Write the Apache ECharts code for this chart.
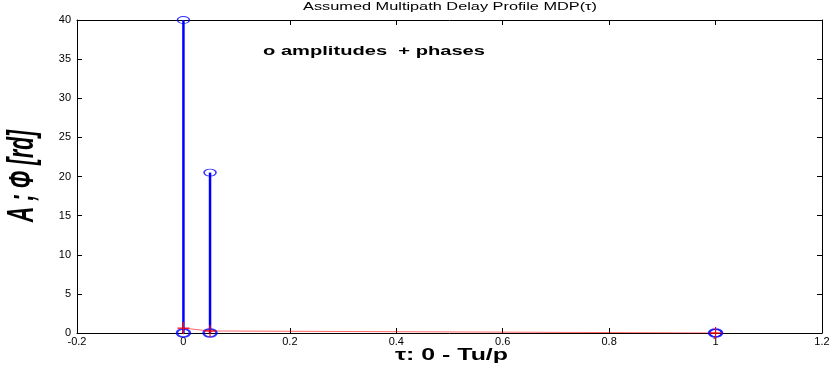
<!DOCTYPE html>
<html>
<head>
<meta charset="utf-8">
<script src="https://cdn.jsdelivr.net/npm/echarts@6/dist/echarts.min.js"></script>
<style>
  html, body { margin: 0; padding: 0; background: #fff; }
  #chart { width: 835px; height: 369px; }
</style>
</head>
<body>
<div id="chart"></div>
<script>
// Path delays (normalised to Tu/p), amplitudes and phases of the assumed profile
const delays = [0, 0.05, 1];
const amplitudes = [40, 20.5, 0];
const phases = [0.62, 0.26, 0.0];

const xTicks = [-0.2, 0, 0.2, 0.4, 0.6, 0.8, 1, 1.2];
const yTicks = [0, 5, 10, 15, 20, 25, 30, 35, 40];

const titleText = 'Assumed Multipath Delay Profile MDP(\u03c4)';
const legendText = 'o amplitudes  + phases';
const xLabelText = '\u03c4: 0 - Tu/p';
const yLabelText = 'A ; \u03a6 [rd]';

const chart = echarts.init(document.getElementById('chart'), null, { renderer: 'canvas' });

// Measure a string so wide-set labels can be stretched to a given run length
const measureCtx = document.createElement('canvas').getContext('2d');
function widthOf(text, font) {
  measureCtx.font = font;
  return measureCtx.measureText(text).width;
}
function stretchedText(text, font, targetWidth, cx, cy, rotation) {
  const s = targetWidth / widthOf(text, font);
  return {
    type: 'text', x: cx, y: cy, rotation: rotation || 0,
    scaleX: s, scaleY: 1,
    style: { text: text, font: font, fill: '#000', align: 'center', verticalAlign: 'middle' }
  };
}

const tickFont = { fontFamily: 'Liberation Sans, Arial, sans-serif', fontSize: 11, color: '#000' };

function fmt(v) {
  return String(Math.round(v * 10) / 10);
}

const stemData = delays.map((d, i) => [d, amplitudes[i]]);
const topCircles = delays.map((d, i) => [d, amplitudes[i]]);
const baseCircles = delays.map(d => [d, 0]);
const phaseData = delays.map((d, i) => [d, phases[i]]);

const boxAxisLine = { show: true, onZero: false, lineStyle: { color: '#000', width: 1 } };
const boxTick = { show: true, inside: true, length: 5, lineStyle: { color: '#000' } };

const titleFont = '10px "Liberation Sans", Arial, sans-serif';
const legendFont = 'bold 13px "Liberation Sans", Arial, sans-serif';
const xLabelFont = 'bold 16px "Liberation Sans", Arial, sans-serif';
const yLabelFont = 'italic bold 36px "Liberation Sans Narrow", "Liberation Sans", Arial, sans-serif';

chart.setOption({
  animation: false,
  backgroundColor: '#fff',
  graphic: [
    stretchedText(titleText, titleFont, 294, 450, 7),
    stretchedText(legendText, legendFont, 222, 263 + 111, 51),
    stretchedText(xLabelText, xLabelFont, 113, 395 + 56.5, 356),
    stretchedText(yLabelText, yLabelFont, 92, 23, 176, Math.PI / 2)
  ],
  grid: { left: 77, right: 13, top: 20, bottom: 36, containLabel: false },
  xAxis: [
    {
      type: 'value', min: -0.2, max: 1.2, interval: 0.2, position: 'bottom',
      axisLine: boxAxisLine, axisTick: boxTick,
      axisLabel: Object.assign({ margin: 3, formatter: fmt }, tickFont),
      splitLine: { show: false }
    },
    {
      type: 'value', min: -0.2, max: 1.2, interval: 0.2, position: 'top',
      axisLine: boxAxisLine, axisTick: boxTick,
      axisLabel: { show: false }, splitLine: { show: false }
    }
  ],
  yAxis: [
    {
      type: 'value', min: 0, max: 40, interval: 5, position: 'left',
      axisLine: boxAxisLine, axisTick: boxTick,
      axisLabel: Object.assign({ margin: 6 }, tickFont),
      splitLine: { show: false }
    },
    {
      type: 'value', min: 0, max: 40, interval: 5, position: 'right',
      axisLine: boxAxisLine, axisTick: boxTick,
      axisLabel: { show: false }, splitLine: { show: false }
    }
  ],
  series: [
    {
      // phase trace
      type: 'line', data: phaseData, symbol: 'none',
      lineStyle: { color: 'rgba(255,0,0,0.6)', width: 1 }, z: 2
    },
    {
      // amplitude stems
      type: 'custom', data: stemData, z: 3,
      renderItem: function (params, api) {
        const p0 = api.coord([api.value(0), 0]);
        const p1 = api.coord([api.value(0), api.value(1)]);
        return {
          type: 'line',
          shape: { x1: p0[0], y1: p0[1], x2: p1[0], y2: p1[1] },
          style: { stroke: '#0000ff', lineWidth: 2.5 }
        };
      }
    },
    {
      type: 'scatter', data: baseCircles, symbol: 'circle', symbolSize: [13, 8], z: 4,
      itemStyle: { color: 'rgba(0,0,0,0)', borderColor: '#0000ff', borderWidth: 2 }
    },
    {
      type: 'scatter', data: topCircles, symbol: 'circle', symbolSize: [12, 7], z: 4,
      itemStyle: { color: 'rgba(0,0,0,0)', borderColor: '#0000ff', borderWidth: 1.2 }
    },
    {
      // phase markers
      type: 'custom', data: phaseData, z: 5,
      renderItem: function (params, api) {
        const p = api.coord([api.value(0), api.value(1)]);
        const h = 6;
        return {
          type: 'group',
          children: [
            { type: 'line', shape: { x1: p[0] - h, y1: p[1], x2: p[0] + h, y2: p[1] }, style: { stroke: '#ff0000', lineWidth: 1.2 } },
            { type: 'line', shape: { x1: p[0], y1: p[1] - h, x2: p[0], y2: p[1] + h }, style: { stroke: '#ff0000', lineWidth: 1.2 } }
          ]
        };
      }
    }
  ]
});
</script>
</body>
</html>
